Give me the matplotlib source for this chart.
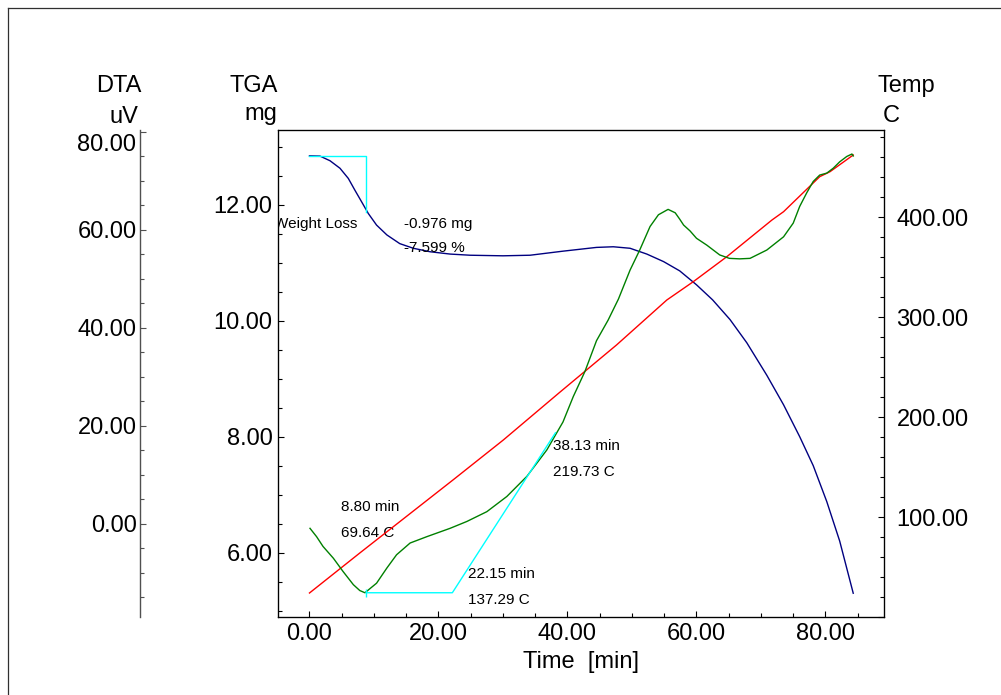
import matplotlib
matplotlib.use('Agg')
import matplotlib.pyplot as plt
from matplotlib.ticker import MultipleLocator, FormatStrFormatter, FuncFormatter
from matplotlib.lines import Line2D

plt.rcParams['font.family'] = ['Liberation Sans', 'DejaVu Sans']

# TGA (mg) vs time (min)
tga_t = [0, 1.63, 3.18, 4.73, 6.02, 7.05, 8.09, 9.12, 10.4, 12.0, 14.0, 16.1, 18.7, 21.8, 24.9,
         30.0, 34.2, 39.3, 44.5, 47.1, 49.7, 52.3, 54.9, 57.4, 60.0, 62.5, 65.2, 67.8, 70.9,
         73.5, 76.0, 78.1, 80.2, 82.2, 84.3]
tga_mg = [12.844, 12.84, 12.76, 12.63, 12.455, 12.25, 12.05, 11.85, 11.65, 11.48, 11.33, 11.25,
          11.19, 11.15, 11.13, 11.12, 11.13, 11.20, 11.265, 11.276, 11.25, 11.15, 11.02, 10.86,
          10.62, 10.36, 10.02, 9.62, 9.06, 8.55, 8.0, 7.50, 6.88, 6.20, 5.30]

# DTA (uV) vs time
dta_t = [0.08, 1.1, 2.1, 3.7, 5.2, 6.8, 7.8, 8.6, 10.4, 12.0, 13.5, 15.6, 18.2, 21.8, 24.4,
         27.5, 30.6, 33.7, 36.8, 39.3, 40.9, 42.7, 44.5, 46.3, 47.9, 49.7, 51.2, 52.8, 54.1,
         55.6, 56.7, 57.4, 58.0, 59.0, 60.0, 61.6, 62.6, 63.6, 65.1, 66.7, 68.3, 70.9, 73.5,
         75.0, 76.0, 77.1, 78.1, 79.1, 80.2, 81.2, 82.2, 83.3, 84.1, 84.3]
dta_uv = [-0.9, -2.6, -4.6, -7.0, -9.7, -12.4, -13.6, -14.05, -12.1, -9.0, -6.3, -3.9, -2.6,
          -0.9, 0.5, 2.5, 5.6, 9.7, 15.1, 20.8, 26.0, 31.1, 37.4, 41.6, 45.9, 51.8, 55.9, 60.7,
          63.1, 64.2, 63.5, 62.2, 61.0, 59.8, 58.3, 56.9, 55.9, 54.9, 54.2, 54.1, 54.2, 55.9,
          58.6, 61.4, 64.8, 67.6, 69.9, 71.2, 71.6, 72.6, 73.9, 75.0, 75.5, 75.1]

# Temperature (C) vs time
temp_t = [0, 7.8, 22.3, 30.05, 38.8, 47.6, 55.4, 59.5, 64.7, 71.7, 73.5, 79.1, 80.7, 84.3]
temp_c = [24, 64, 137.3, 177, 224.7, 272, 317, 335.3, 360.3, 397, 405.3, 440.3, 445.3, 462]

# analysis marks
wl_t = [0, 8.80, 8.80]
wl_mg = [12.844, 12.844, 12.844 - 0.976]
onset_t = [8.80, 22.15, 38.13]
onset_uv = [-14.05, -14.05, 18.6]
notes = [("Weight Loss", -0.007, 0.807, True), ("-0.976 mg", 0.208, 0.807, False),
         ("-7.599 %", 0.208, 0.757, False),
         ("8.80 min", 0.104, 0.225, False), ("69.64 C", 0.104, 0.172, False),
         ("22.15 min", 0.314, 0.088, False), ("137.29 C", 0.314, 0.035, False),
         ("38.13 min", 0.454, 0.351, False), ("219.73 C", 0.454, 0.298, False)]

W, H = 1001, 695
fig = plt.figure(figsize=(W / 100, H / 100), dpi=100)
x0, x1, y0, y1 = 278, 884, 130, 617
ax = fig.add_axes([x0 / W, 1 - y1 / H, (x1 - x0) / W, (y1 - y0) / H])
axT = ax.twinx()
axD = ax.twinx()

fs = 17
# TGA axis
ax.set_xlim(-4.88, 89.07)
ax.set_ylim(4.89, 13.29)
ax.xaxis.set_major_locator(MultipleLocator(20))
ax.xaxis.set_minor_locator(MultipleLocator(5))
ax.yaxis.set_major_locator(MultipleLocator(2))
ax.yaxis.set_minor_locator(MultipleLocator(0.5))
ax.xaxis.set_major_formatter(FormatStrFormatter('%.2f'))
ax.yaxis.set_major_formatter(FormatStrFormatter('%.2f'))
ax.tick_params(which='both', direction='in', labelsize=fs, top=False, right=False, width=0.8)
ax.tick_params(which='major', length=4.3)
ax.tick_params(which='minor', length=3)
ax.tick_params(axis='y', pad=4)
ax.tick_params(axis='x', pad=4)
for s in ax.spines.values():
    s.set_linewidth(0.9)

# Temp axis
axT.set_ylim(0, 487)
axT.yaxis.set_major_locator(MultipleLocator(100))
axT.yaxis.set_minor_locator(MultipleLocator(20))
axT.yaxis.set_major_formatter(FuncFormatter(lambda v, p: '' if v == 0 else '%.2f' % v))
axT.tick_params(which='both', direction='in', labelsize=fs, pad=9, width=0.8)
axT.tick_params(which='major', length=4.3)
axT.tick_params(which='minor', length=3)

# DTA axis
axD.set_ylim(-19, 80.4)
for k in ['top', 'bottom', 'right']:
    axD.spines[k].set_visible(False)
axD.spines['left'].set_visible(True)
axD.spines['left'].set_position(('axes', (140 - x0) / (x1 - x0)))
axD.spines['left'].set_color('#505050')
axD.spines['left'].set_linewidth(1.0)
axD.yaxis.set_ticks_position('left')
axD.yaxis.set_major_locator(MultipleLocator(20))
axD.yaxis.set_minor_locator(MultipleLocator(5))
axD.yaxis.set_major_formatter(FuncFormatter(lambda v, p: '' if v > 79 else '%.2f' % v))
axD.tick_params(which='both', direction='in', labelsize=fs, pad=2.5, width=0.8, color='#505050')
axD.tick_params(which='major', length=4.3)
axD.tick_params(which='minor', length=3)
fig.text(136.5 / W, 1 - 145 / H, '80.00', ha='right', va='center', fontsize=fs)

# curves
ax.plot(tga_t, tga_mg, color='#000080', lw=1.0)
ax.plot(wl_t, wl_mg, color='#00FFFF', lw=1.0)
axT.plot(temp_t, temp_c, color='#FF0000', lw=1.0)
axD.plot(dta_t, dta_uv, color='#008000', lw=1.0)
axD.plot(onset_t, onset_uv, color='#00FFFF', lw=1.0)
axD.plot([onset_t[0]], [onset_uv[0]], marker='|', ms=6, color='#00FFFF', mew=1.0)

for txt, fx, fy, clip in notes:
    ax.text(fx, fy, txt, transform=ax.transAxes, fontsize=11, ha='left', va='center',
            clip_on=clip)

# axis titles
def ftext(px, py, s, ha):
    fig.text(px / W, 1 - py / H, s, ha=ha, va='baseline', fontsize=fs)

ftext(141, 92, 'DTA', 'right')
ftext(138, 123, 'uV', 'right')
ftext(278, 92, 'TGA', 'right')
ftext(277, 120, 'mg', 'right')
ftext(877, 92, 'Temp', 'left')
ftext(883, 122, 'C', 'left')
fig.text(581 / W, 1 - 662 / H, 'Time  [min]', ha='center', va='center', fontsize=fs)

# outer frame
fig.add_artist(Line2D([8 / W, 8 / W], [0, 1 - 8 / H], transform=fig.transFigure, color='#303030', lw=0.9))
fig.add_artist(Line2D([8 / W, 1], [1 - 8 / H, 1 - 8 / H], transform=fig.transFigure, color='#303030', lw=0.9))

fig.savefig('out.png', dpi=100)
